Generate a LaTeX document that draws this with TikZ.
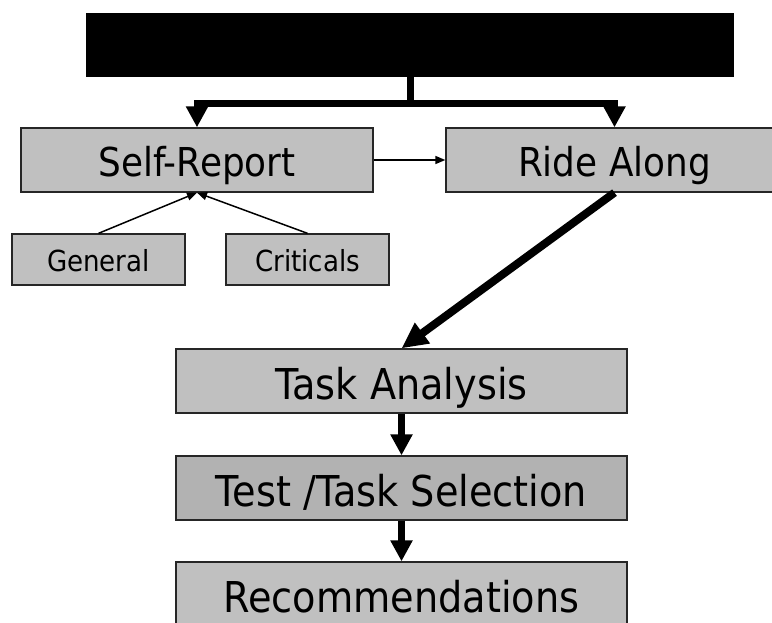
\documentclass[tikz,border=0pt]{standalone}
\usepackage{fontspec}
\setmainfont{DejaVu Sans}[FakeStretch=0.9]
\usepackage{tikz}
\usetikzlibrary{arrows.meta}
\definecolor{cajagris}{HTML}{C0C0C0}
\definecolor{cajaoscura}{HTML}{B2B2B2}

\begin{document}
\begin{tikzpicture}[x=1pt,y=-1pt,
    caja/.style={rectangle, draw=black!85, line width=1.3pt, fill=cajagris,
        inner sep=0pt, text depth=0pt},
    grande/.style={caja, minimum width=451pt, minimum height=64pt,
        font=\fontsize{42.5}{48}\selectfont, text height=36pt},
    media/.style={caja, minimum height=64pt,
        font=\fontsize{39.8}{44}\selectfont, text height=34pt},
    chica/.style={caja, minimum height=51pt,
        font=\fontsize{29}{33}\selectfont, text height=25pt},
    gruesa/.style={line width=7pt, -{Triangle[width=21pt,length=21pt]}},
    diagonal/.style={line width=8pt, -{Triangle[width=24pt,length=26pt]}},
    fina/.style={line width=1.5pt, -{Triangle[width=8pt,length=10pt]}}]

    % Marco
    \useasboundingbox (0,0) rectangle (772,623);
    \clip (0,0) rectangle (772,623);

    % Caja superior
    \node[fill=black, minimum width=648pt, minimum height=64pt] (titulo) at (410,45) {};

    % Fuentes de datos
    \node[media, minimum width=352pt] (selfrep) at (197,160) {Self-Report};
    \node[media, minimum width=337pt] (ride) at (614.5,160) {Ride Along};
    \node[chica, minimum width=173pt] (general) at (98.5,259.5) {General};
    \node[chica, minimum width=163pt] (criticas) at (307.5,259.5) {Criticals};

    % Etapas
    \node[grande] (tarea) at (401.5,381) {Task Analysis};
    \node[grande, fill=cajaoscura] (seleccion) at (401.5,488) {Test /Task Selection};
    \node[grande] (recom) at (401.5,594) {Recommendations};

    % Flechas desde la caja superior
    \draw[gruesa] (titulo.south) -- ++(0,26) -| (selfrep.north);
    \draw[gruesa] (titulo.south) -- ++(0,26) -| (ride.north);

    % Flechas finas
    \draw[fina] (selfrep.east) -- (ride.west);
    \draw[fina] (general.north) -- (selfrep.south);
    \draw[fina] (criticas.north) -- (selfrep.south);

    % Flechas de las etapas
    \draw[diagonal] (ride.south) -- (tarea.north);
    \draw[gruesa] (tarea.south) -- (seleccion.north);
    \draw[gruesa] (seleccion.south) -- (recom.north);
\end{tikzpicture}
\end{document}
